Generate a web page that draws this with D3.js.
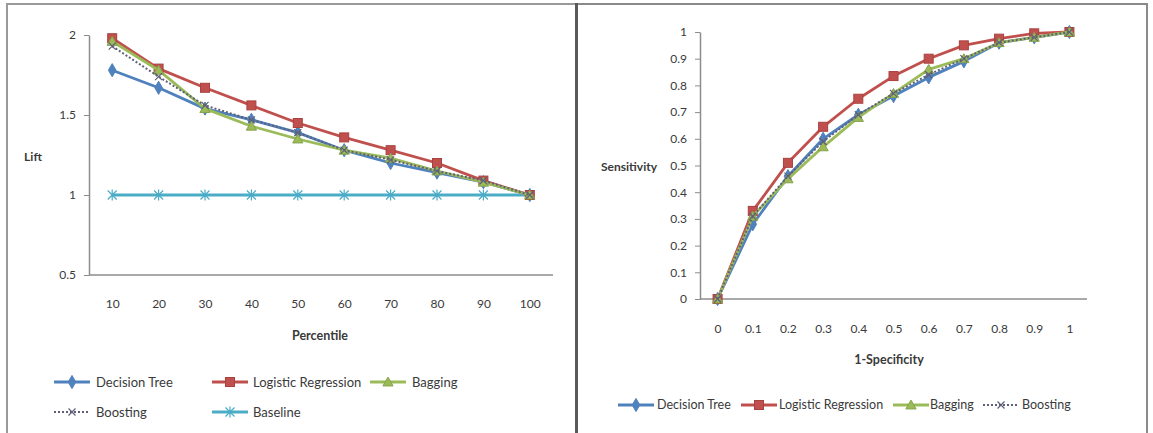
<!DOCTYPE html>
<html>
<head>
<meta charset="utf-8">
<script src="https://cdn.jsdelivr.net/npm/d3@7"></script>
<style>
  body { margin: 0; background: #fff; }
  svg text { font-family: Lato, "Open Sans", sans-serif; fill: #3a3a3a; }
</style>
</head>
<body>
<svg id="chart" width="1153" height="433"></svg>
<script>
// ---- data: lift chart ----
var percentiles = [10, 20, 30, 40, 50, 60, 70, 80, 90, 100];
var liftDecisionTree = [1.78, 1.67, 1.54, 1.47, 1.39, 1.28, 1.20, 1.14, 1.08, 1.0];
var liftLogistic = [1.98, 1.79, 1.67, 1.56, 1.45, 1.36, 1.28, 1.20, 1.09, 1.0];
var liftBagging = [1.96, 1.78, 1.54, 1.43, 1.35, 1.28, 1.23, 1.15, 1.08, 1.0];
var liftBoosting = [1.93, 1.74, 1.56, 1.47, 1.39, 1.28, 1.22, 1.15, 1.09, 1.0];
var liftBaseline = [1, 1, 1, 1, 1, 1, 1, 1, 1, 1];
var liftTicks = [0.5, 1, 1.5, 2];

// ---- data: ROC chart ----
var specificity = ['0', '0.1', '0.2', '0.3', '0.4', '0.5', '0.6', '0.7', '0.8', '0.9', '1'];
var rocDecisionTree = [0, 0.28, 0.46, 0.60, 0.69, 0.76, 0.83, 0.89, 0.96, 0.98, 1.0];
var rocLogistic = [0, 0.33, 0.51, 0.645, 0.75, 0.835, 0.90, 0.95, 0.975, 0.995, 1.0];
var rocBagging = [0, 0.31, 0.45, 0.57, 0.68, 0.77, 0.86, 0.90, 0.96, 0.98, 1.0];
var rocBoosting = [0, 0.31, 0.46, 0.59, 0.69, 0.77, 0.84, 0.90, 0.96, 0.98, 1.0];
var rocTicks = [0, 0.1, 0.2, 0.3, 0.4, 0.5, 0.6, 0.7, 0.8, 0.9, 1];

var colors = {
    tree: '#4f81bd',
    logistic: '#c0504d',
    bagging: '#9bbb59',
    boosting: '#5f6078',
    baseline: '#4bacc6'
};

var svg = d3.select('#chart');

// panel frames
svg.append('rect').attr('x', 7).attr('y', 4).attr('width', 569).attr('height', 440)
    .attr('fill', 'none').attr('stroke', '#9a9a9a').attr('stroke-width', 2);
svg.append('rect').attr('x', 577).attr('y', 4).attr('width', 570).attr('height', 440)
    .attr('fill', 'none').attr('stroke', '#8a8a8a').attr('stroke-width', 2);
svg.append('line').attr('x1', 576.5).attr('x2', 576.5).attr('y1', 3).attr('y2', 433)
    .attr('stroke', '#5a5a5a').attr('stroke-width', 3);

// marker drawing
function drawMarker(g, type, color, x, y) {
    if (type === 'diamond') {
        g.append('path').attr('d', d3.symbol(d3.symbolDiamond, 50)())
            .attr('transform', `translate(${x},${y})`).attr('fill', color).attr('stroke', color);
    } else if (type === 'square') {
        g.append('rect').attr('x', x - 4.5).attr('y', y - 4.5).attr('width', 9).attr('height', 9)
            .attr('fill', color).attr('stroke', '#a9413e').attr('stroke-width', 1);
    } else if (type === 'triangle') {
        g.append('path').attr('d', d3.symbol(d3.symbolTriangle, 45)())
            .attr('transform', `translate(${x},${y + 1})`).attr('fill', color).attr('stroke', '#86a34b');
    } else if (type === 'x') {
        g.append('path').attr('d', `M${x - 3.5},${y - 3.5}L${x + 3.5},${y + 3.5}M${x - 3.5},${y + 3.5}L${x + 3.5},${y - 3.5}`)
            .attr('stroke', color).attr('stroke-width', 1.2).attr('fill', 'none');
    } else if (type === 'star') {
        g.append('path').attr('d', `M${x - 4.5},${y - 4.5}L${x + 4.5},${y + 4.5}M${x - 4.5},${y + 4.5}L${x + 4.5},${y - 4.5}M${x},${y - 5.5}L${x},${y + 5.5}`)
            .attr('stroke', color).attr('stroke-width', 1.2).attr('fill', 'none');
    }
}

function drawSeries(g, xScale, yScale, cats, values, s) {
    var pts = cats.map((c, i) => [xScale(c), yScale(values[i])]);
    g.append('path')
        .attr('d', d3.line()(pts))
        .attr('fill', 'none')
        .attr('stroke', s.color)
        .attr('stroke-width', s.dash ? 2 : 2.8)
        .attr('stroke-dasharray', s.dash || null)
        .attr('stroke-linejoin', 'round');
    pts.forEach(p => drawMarker(g, s.marker, s.color, p[0], p[1]));
}

function legendItem(g, x, y, s, gap, size) {
    g.append('line').attr('x1', x).attr('x2', x + 36).attr('y1', y).attr('y2', y)
        .attr('stroke', s.color).attr('stroke-width', s.dash ? 2 : 2.8)
        .attr('stroke-dasharray', s.dash || null);
    drawMarker(g, s.marker, s.color, x + 18, y);
    g.append('text').attr('x', x + gap).attr('y', y).attr('dy', '0.35em')
        .style('font-size', size).text(s.name);
}

function styleAxis(ax) {
    ax.select('.domain').attr('stroke', '#8c8c8c').attr('stroke-width', 1.5);
    ax.selectAll('.tick line').attr('stroke', '#8c8c8c');
    ax.selectAll('.tick text').style('font-size', '12px').attr('fill', '#3a3a3a');
}

// ================= Lift chart =================
var lx = d3.scalePoint().domain(percentiles).range([89, 553]).padding(0.5);
var ly = d3.scaleLinear().domain([0.5, 2]).range([275, 35]);

var left = svg.append('g');
left.append('g').attr('transform', 'translate(0,275)')
    .call(d3.axisBottom(lx).tickSize(0).tickPadding(24)).call(styleAxis)
    .select('.domain').attr('d', 'M89,0H553');
left.append('g').attr('transform', 'translate(89,0)')
    .call(d3.axisLeft(ly).tickValues(liftTicks).tickSize(5).tickSizeOuter(0).tickPadding(8)
        .tickFormat(d3.format('')))
    .call(styleAxis);

var liftSeries = [
    { name: 'Decision Tree', values: liftDecisionTree, color: colors.tree, marker: 'diamond' },
    { name: 'Logistic Regression', values: liftLogistic, color: colors.logistic, marker: 'square' },
    { name: 'Bagging', values: liftBagging, color: colors.bagging, marker: 'triangle' },
    { name: 'Boosting', values: liftBoosting, color: colors.boosting, marker: 'x', dash: '2,2' },
    { name: 'Baseline', values: liftBaseline, color: colors.baseline, marker: 'star' }
];
var liftOrder = [4, 0, 1, 2, 3];
liftOrder.forEach(i => drawSeries(left, lx, ly, percentiles, liftSeries[i].values, liftSeries[i]));

left.append('text').attr('x', 33).attr('y', 157).attr('text-anchor', 'middle').attr('dy', '0.35em')
    .style('font-size', '12px').style('font-weight', 'bold').text('Lift');
left.append('text').attr('x', 320).attr('y', 336).attr('text-anchor', 'middle').attr('dy', '0.35em')
    .style('font-size', '12.5px').style('font-weight', 'bold').text('Percentile');

legendItem(left, 54, 382, liftSeries[0], 42, '13px');
legendItem(left, 212, 382, liftSeries[1], 41, '13px');
legendItem(left, 370, 382, liftSeries[2], 42, '13px');
legendItem(left, 54, 412, liftSeries[3], 42, '13px');
legendItem(left, 212, 412, liftSeries[4], 41, '13px');

// ================= ROC chart =================
var rx = d3.scalePoint().domain(specificity).range([700, 1087]).padding(0.5);
var ry = d3.scaleLinear().domain([0, 1]).range([299, 32]);

var right = svg.append('g');
right.append('g').attr('transform', 'translate(0,299)')
    .call(d3.axisBottom(rx).tickSize(0).tickPadding(25)).call(styleAxis)
    .select('.domain').attr('d', 'M700,0H1087');
right.append('g').attr('transform', 'translate(700,0)')
    .call(d3.axisLeft(ry).tickValues(rocTicks).tickSize(5).tickSizeOuter(0).tickPadding(8)
        .tickFormat(d3.format('')))
    .call(styleAxis);

var rocSeries = [
    { name: 'Decision Tree', values: rocDecisionTree, color: colors.tree, marker: 'diamond' },
    { name: 'Logistic Regression', values: rocLogistic, color: colors.logistic, marker: 'square' },
    { name: 'Bagging', values: rocBagging, color: colors.bagging, marker: 'triangle' },
    { name: 'Boosting', values: rocBoosting, color: colors.boosting, marker: 'x', dash: '2,2' }
];
rocSeries.forEach(s => drawSeries(right, rx, ry, specificity, s.values, s));

right.append('text').attr('x', 629).attr('y', 167).attr('text-anchor', 'middle').attr('dy', '0.35em')
    .style('font-size', '12px').style('font-weight', 'bold').text('Sensitivity');
right.append('text').attr('x', 889).attr('y', 360).attr('text-anchor', 'middle').attr('dy', '0.35em')
    .style('font-size', '12.5px').style('font-weight', 'bold').text('1-Specificity');

legendItem(right, 618, 405, rocSeries[0], 39, '12.5px');
legendItem(right, 741, 405, rocSeries[1], 38, '12.5px');
legendItem(right, 893, 405, rocSeries[2], 37, '12.5px');
legendItem(right, 983, 405, rocSeries[3], 39, '12.5px');
</script>
</body>
</html>
